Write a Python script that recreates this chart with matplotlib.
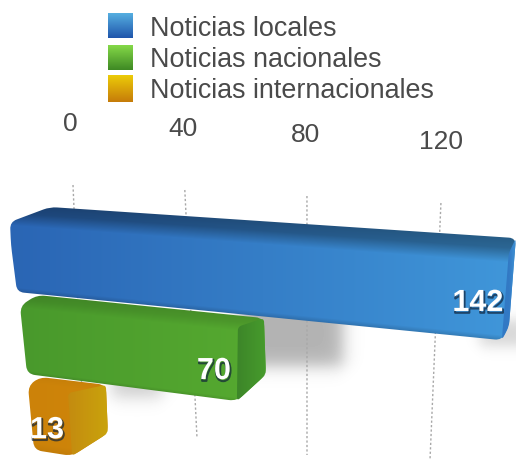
import numpy as np
import matplotlib
matplotlib.use("Agg")
import matplotlib.pyplot as plt
from matplotlib.path import Path
import matplotlib.patheffects as pe

# ---------- data ----------
categories = ["Noticias locales", "Noticias nacionales", "Noticias internacionales"]
values = [142, 70, 13]
tick_values = [0, 40, 80, 120]

# ---------- style / layout ----------
plt.rcParams["font.family"] = ["Liberation Sans", "DejaVu Sans"]
W, H = 516, 462
TEXT = "#4a4a4a"
legend_stops = [("#55aee0", "#2056ac"), ("#84d848", "#3f8a24"), ("#eccb08", "#c67c0a")]
legend_boxes = [(108, 13, 133, 38), (108, 45, 133, 70), (108, 75, 133, 102)]
legend_text_y = [28.5, 60, 91]
tick_label_pos = [(70, 124), (183, 129), (306, 135), (441, 142)]
grid_top_y = [185, 190, 196, 203]
grid_bot_y = [440, 438, 455, 460]
grid_bot_x = [84, 197, 307, 430]

# each row: left corners and the edges (intercept, slope) in picture space
rows = [
    dict(fl=(10, 222), bl=(50, 207), back=(203.7, .0667), bot=(290.3, .0994), front=(218, .0695),
         sil_bot_dx=-3, end_mid=(509, 326), left_mid=(11, 245), left_bot=(17, 292),
         left="#2a65b4", right="#4097da", end_a="#3279c4", end_b="#3f92d6",
         shade=([0, .1, .24, .95, 1], [.62, .68, 1, 1, .85]), label=(-27, -37.5), radius=7),
    dict(fl=(20, 306), bl=(37, 295), back=(291.2, .102), bot=(370.5, .129), front=(303, .1),
         sil_bot_dx=0, end_mid=None, left_mid=None, left_bot=(27, 374),
         left="#49992c", right="#56aa30", end_a="#3d8629", end_b="#469a2c",
         shade=([0, .08, .18, .96, 1], [.86, .9, 1, 1, .9]), label=(-23, -30), radius=8),
    dict(fl=(28, 386), bl=(40, 377), back=(372, .121), bot=(444.6, .158), front=(385, .12),
         sil_bot_dx=5, end_mid=None, left_mid=None, left_bot=(34, 450),
         left="#cc8209", right="#cf860a", end_a="#c48b10", end_b="#c9a20c",
         shade=([0, .1, .9, 1], [.97, 1, 1, .95]), label=(-20, -25), radius=8),
]


def back_x(v):
    return 75 + 2.304 * v + .00564 * v ** 2


def front_x(v):
    return 33.5 + 2.504 * v + .00574 * v ** 2


def grid_top_x(v):
    return (2.6 * v + 73) / (1 - .001057 * v)


def rounded(points, r):
    """Closed path through the corners of `points`, each corner softened."""
    pts = [np.array(p, float) for p in points]
    n = len(pts)
    verts, codes = [], []
    for i, p in enumerate(pts):
        a, b = pts[i - 1], pts[(i + 1) % n]
        ra = min(r, np.linalg.norm(a - p) / 2)
        rb = min(r, np.linalg.norm(b - p) / 2)
        s = p + (a - p) / np.linalg.norm(a - p) * ra
        e = p + (b - p) / np.linalg.norm(b - p) * rb
        verts += [s, p, e]
        codes += [Path.MOVETO if i == 0 else Path.LINETO, Path.CURVE3, Path.CURVE3]
    verts.append(verts[0])
    codes.append(Path.CLOSEPOLY)
    return Path(verts, codes)


def rgb(c):
    return np.array(matplotlib.colors.to_rgb(c))


def paint(ax, path, fn, z):
    x0, y0 = np.floor(path.vertices.min(0)).astype(int)
    x1, y1 = np.ceil(path.vertices.max(0)).astype(int)
    X, Y = np.meshgrid(np.arange(x0, x1) + .5, np.arange(y0, y1) + .5)
    im = ax.imshow(np.clip(fn(X, Y), 0, 1), extent=(x0, x1, y1, y0), zorder=z,
                   interpolation="bilinear", aspect="auto")
    im.set_clip_path(path, ax.transData)


fig = plt.figure(figsize=(W / 100, H / 100), dpi=100)
ax = fig.add_axes([0, 0, 1, 1])

# soft shadows
X, Y = np.meshgrid(np.arange(W) + .5, np.arange(H) + .5)


def soft(x0, x1, y0, y1, s):
    return (1 / (1 + np.exp((x0 - X) / s)) * 1 / (1 + np.exp((X - x1) / s))
            * 1 / (1 + np.exp((y0 - Y) / s)) * 1 / (1 + np.exp((Y - y1) / s)))


shadow = (.30 * soft(240, 343, 300, 366, 5)
          + .20 * soft(112, 162, 370, 397, 5)
          + .16 * soft(480, 530, 320, 346, 4))
ax.imshow(np.clip(1 - shadow, 0, 1), cmap="gray", vmin=0, vmax=1,
          extent=(0, W, H, 0), zorder=1, aspect="auto")

# grid lines
for i, v in enumerate(tick_values):
    ax.plot([grid_top_x(v), grid_bot_x[i]], [grid_top_y[i], grid_bot_y[i]],
            color="#a8a8a8", lw=1, ls=(0, (1.6, 1.6)), zorder=2)

# bars (the longest sits on top of the next one)
for k, (value, row) in reversed(list(enumerate(zip(values, rows)))):
    z = 5 + (len(values) - k) * 2
    xb, xf = back_x(value), front_x(value)
    ytop = row["back"][0] + row["back"][1] * xb
    ybot = lambda x, r=row: r["bot"][0] + r["bot"][1] * x
    yfr = row["front"][0] + row["front"][1] * xf
    bot_x = xf + row["sil_bot_dx"]
    side = row["end_mid"] or (xb + 2, ytop + (ybot(bot_x) - ytop) * .68)
    outline = [row["fl"], row["bl"], (xb, ytop), side, (bot_x, ybot(bot_x)), row["left_bot"]]
    if row["left_mid"]:
        outline.append(row["left_mid"])
    sil = rounded(outline, row["radius"])

    L, R = rgb(row["left"]), rgb(row["right"])
    xl, xr = row["fl"][0], xb
    sx, sv = row["shade"]

    def body(X, Y, row=row, L=L, R=R, xl=xl, xr=xr, sx=sx, sv=sv):
        top = row["back"][0] + row["back"][1] * X
        bot = row["bot"][0] + row["bot"][1] * X
        t = np.clip((Y - top) / (bot - top), 0, 1)
        u = np.clip((X - xl) / (xr - xl), 0, 1)[..., None]
        return (L * (1 - u) + R * u) * np.interp(t, sx, sv)[..., None]

    paint(ax, sil, body, z)

    # end cap of the bar
    inner_top = (xf + (1 if k else 4), yfr)
    end = rounded([inner_top, outline[2], outline[3], outline[4]], 4)
    A, B = rgb(row["end_a"]), rgb(row["end_b"])

    def cap(X, Y, A=A, B=B, x0=inner_top[0], x1=xb):
        u = np.clip((X - x0) / (x1 - x0), 0, 1)[..., None]
        return A * (1 - u) + B * u

    paint(ax, end, cap, z + 1)

    # value label
    lx = xf + row["label"][0]
    ly = ybot(xf) + row["label"][1]
    ax.text(lx, ly, str(value), color="white", fontsize=22, fontweight="bold",
            ha="center", va="center", zorder=30,
            path_effects=[pe.SimpleLineShadow(offset=(.6, -1.3), shadow_color="#10233a",
                                              alpha=.7, linewidth=1.5),
                          pe.Normal()])

# tick labels
for v, (tx, ty) in zip(tick_values, tick_label_pos):
    ax.text(tx, ty, str(v), color=TEXT, fontsize=19, ha="center", va="center", zorder=30)

# legend
for name, (c0, c1), (x0, y0, x1, y1), ty in zip(categories, legend_stops, legend_boxes, legend_text_y):
    a, b = rgb(c0), rgb(c1)
    t = np.linspace(0, 1, 32)[:, None, None]
    ax.imshow((a * (1 - t) + b * t), extent=(x0, x1, y1, y0), zorder=30, aspect="auto")
    ax.text(150, ty, name, color=TEXT, fontsize=19.4, ha="left", va="center", zorder=30)

ax.set_xlim(0, W)
ax.set_ylim(H, 0)
ax.axis("off")
fig.savefig("out.png", dpi=100)
